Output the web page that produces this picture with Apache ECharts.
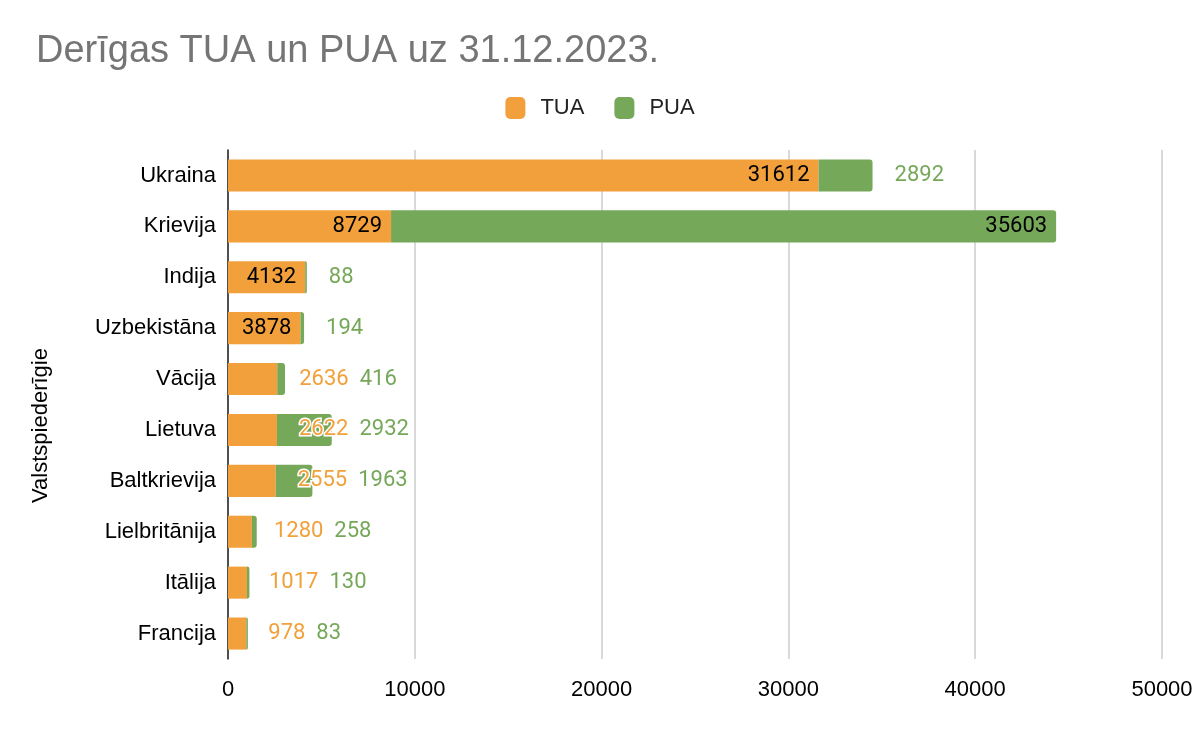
<!DOCTYPE html>
<html>
<head>
<meta charset="utf-8">
<script src="https://cdn.jsdelivr.net/npm/echarts@6/dist/echarts.min.js"></script>
<style>
  html, body { margin: 0; padding: 0; background: #fff; }
  #chart { width: 1200px; height: 732px; }
</style>
</head>
<body>
<div id="chart"></div>
<script>
var countries = ['Ukraina', 'Krievija', 'Indija', 'Uzbekistāna', 'Vācija', 'Lietuva',
    'Baltkrievija', 'Lielbritānija', 'Itālija', 'Francija'];
var tuaValues = [31612, 8729, 4132, 3878, 2636, 2622, 2555, 1280, 1017, 978];
var puaValues = [2892, 35603, 88, 194, 416, 2932, 1963, 258, 130, 83];
var xTicks = [0, 10000, 20000, 30000, 40000, 50000];

var ORANGE = '#f2a03b';
var GREEN = '#76a85a';
var INSIDE_MIN = 3500;   // segments narrower than this get their label outside
var GAP = 22;

// measure label widths so the PUA label can sit after the TUA label
var ctx = document.createElement('canvas').getContext('2d');
ctx.font = '22px Roboto';
function textW(v) {
    return ctx.measureText(String(v)).width;
}

function segLabel(v, color) {
    if (v >= INSIDE_MIN) {
        return { position: 'insideRight', distance: 9, color: '#000' };
    }
    return {
        position: 'right', distance: GAP, color: color,
        textBorderColor: '#fff', textBorderWidth: 3
    };
}

var chart = echarts.init(document.getElementById('chart'));

var option = {
    backgroundColor: '#fff',
    title: {
        text: 'Derīgas TUA un PUA uz 31.12.2023.',
        left: 31,
        top: 28,
        textStyle: { fontFamily: 'Liberation Sans', fontSize: 38, fontWeight: 'normal', color: '#757575' }
    },
    legend: {
        top: 92,
        left: 'center',
        icon: 'roundRect',
        itemWidth: 20,
        itemHeight: 22,
        itemGap: 30,
        textStyle: { fontFamily: 'Liberation Sans', fontSize: 22, color: '#222', padding: [0, 0, 0, 10] },
        data: ['TUA', 'PUA']
    },
    grid: { left: 228, right: 38, top: 150, bottom: 73 },
    xAxis: {
        type: 'value',
        min: xTicks[0],
        max: xTicks[xTicks.length - 1],
        interval: xTicks[1] - xTicks[0],
        axisLine: { show: false },
        axisTick: { show: false },
        axisLabel: {
            fontFamily: 'Liberation Sans', fontSize: 22, color: '#000', margin: 20,
            formatter: function (v) { return String(v); }
        },
        splitLine: { lineStyle: { color: '#cccccc', width: 1.5 } }
    },
    yAxis: {
        type: 'category',
        inverse: true,
        data: countries,
        name: 'Valstspiederīgie',
        nameLocation: 'middle',
        nameGap: 176,
        nameTextStyle: { fontFamily: 'Liberation Sans', fontSize: 22, color: '#000', padding: [0, 42, 0, 0] },
        axisLine: { show: true, lineStyle: { color: '#222', width: 1.5 } },
        axisTick: { show: false },
        axisLabel: { fontFamily: 'Liberation Sans', fontSize: 22, color: '#000', margin: 12 }
    },
    series: [
        {
            name: 'TUA',
            type: 'bar',
            stack: 'total',
            barCategoryGap: '37%',
            itemStyle: { color: ORANGE },
            label: { show: true, fontFamily: 'Roboto', fontSize: 22 },
            data: tuaValues.map(function (v) {
                return { value: v, label: segLabel(v, ORANGE) };
            })
        },
        {
            name: 'PUA',
            type: 'bar',
            stack: 'total',
            barCategoryGap: '37%',
            itemStyle: { color: GREEN, borderRadius: [0, 3, 3, 0] },
            label: { show: true, fontFamily: 'Roboto', fontSize: 22 },
            labelLayout: function (p) {
                var i = p.dataIndex;
                if (puaValues[i] >= INSIDE_MIN) return {};
                var x = p.rect.x + p.rect.width + GAP;
                if (tuaValues[i] < INSIDE_MIN) {
                    x = Math.max(x, p.rect.x + GAP + textW(tuaValues[i]) + 11);
                }
                return { x: x, y: p.rect.y + p.rect.height / 2, align: 'left', verticalAlign: 'middle' };
            },
            data: puaValues.map(function (v) {
                return { value: v, label: segLabel(v, GREEN) };
            })
        }
    ]
};

chart.setOption(option);
</script>
</body>
</html>
